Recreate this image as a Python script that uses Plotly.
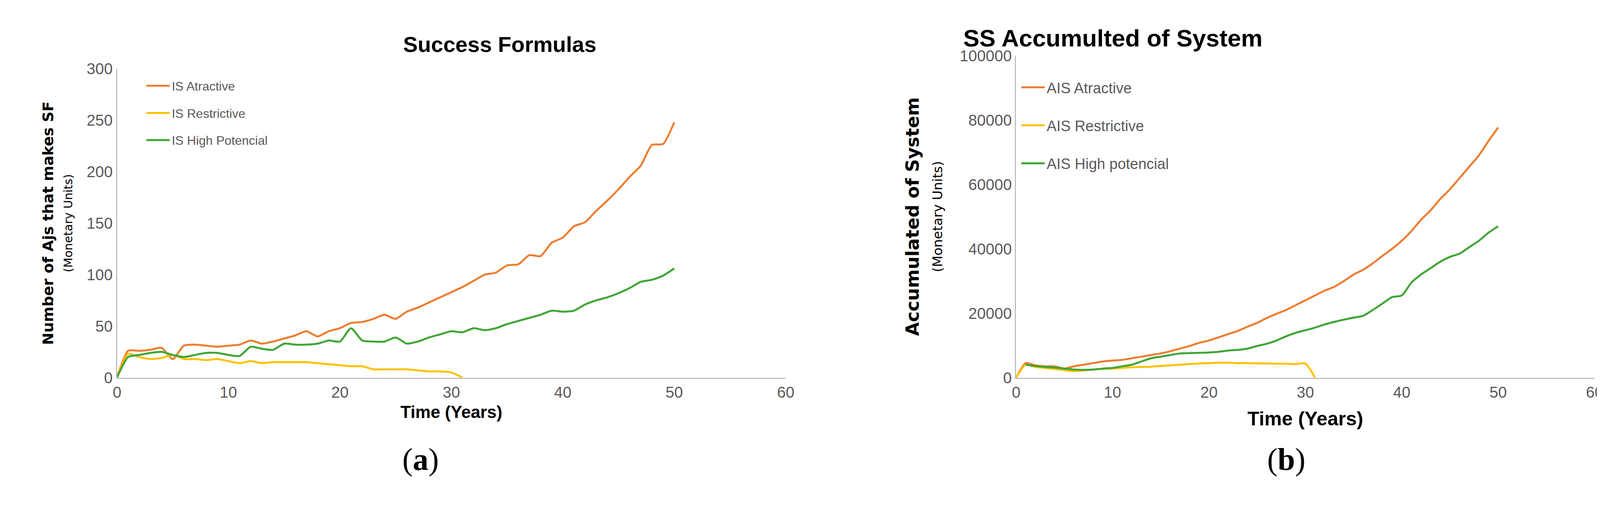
import plotly.graph_objects as go
from plotly.subplots import make_subplots

years = list(range(0, 51))

sf_attractive = [0, 26, 26, 27, 29, 18, 31, 32, 31, 30, 31, 32, 36, 33, 35, 38, 41, 45, 40, 45,
                 48, 53, 54, 57, 61, 57, 64, 68, 73, 78, 83, 88, 94, 100, 102, 109, 110, 119, 118, 131,
                 136, 147, 151, 162, 172, 183, 195, 206, 226, 227, 248]
sf_restrictive = [0, 23, 20, 18, 19, 22, 18, 18, 17, 18, 16, 14, 16, 14, 15, 15, 15, 15, 14, 13,
                  12, 11, 11, 8, 8, 8, 8, 7, 6, 6, 5, 0]
sf_high = [0, 20, 22, 24, 25, 22, 20, 22, 24, 24, 22, 21, 30, 28, 27, 33, 32, 32, 33, 36,
           35, 48, 36, 35, 35, 39, 33, 35, 39, 42, 45, 44, 48, 46, 48, 52, 55, 58, 61, 65,
           64, 65, 71, 75, 78, 82, 87, 93, 95, 99, 106]

ais_attractive = [0, 4500, 3800, 3500, 3500, 2800, 3500, 4000, 4500, 5000, 5300, 5500, 6000, 6500,
                  7000, 7500, 8200, 9000, 9800, 10800, 11500, 12500, 13500, 14500, 15800, 17000,
                  18500, 19800, 21000, 22500, 24000, 25500, 27000, 28200, 30000, 32000, 33500,
                  35500, 37800, 40000, 42500, 45500, 49000, 52000, 55500, 58500, 62000, 65500,
                  69000, 73500, 77700]
ais_restrictive = [0, 4000, 3300, 3000, 2700, 2300, 2000, 2200, 2500, 2700, 2800, 3000, 3200, 3300,
                   3400, 3600, 3800, 4000, 4200, 4400, 4500, 4600, 4600, 4500, 4500, 4400, 4400,
                   4300, 4300, 4200, 4400, 0]
ais_high_years = list(range(1, 51))
ais_high = [4000, 3600, 3300, 3100, 2800, 2500, 2400, 2500, 2800, 3000, 3500, 4000, 5000, 6000,
            6500, 7000, 7500, 7600, 7700, 7800, 8000, 8400, 8600, 9000, 9800, 10500, 11500, 12800,
            13900, 14700, 15500, 16500, 17300, 18000, 18600, 19200, 21000, 23000, 25000, 25500,
            29500, 32000, 34000, 36000, 37500, 38500, 40500, 42500, 45000, 47000]

ORANGE = '#ED7D31'
YELLOW = '#FFC000'
GREEN = '#3FA535'
NARROW = 'Liberation Sans Narrow, Liberation Sans, sans-serif'

fig = make_subplots(rows=1, cols=2)

def add(x, y, name, color, col, legend):
    fig.add_trace(go.Scatter(x=x, y=y, name=name, mode='lines', legendgroup=name,
                             line=dict(color=color, width=5, shape='spline', smoothing=0.6),
                             legend=legend), row=1, col=col)

add(years, sf_attractive, 'IS Atractive', ORANGE, 1, 'legend')
add(years[:len(sf_restrictive)], sf_restrictive, 'IS Restrictive', YELLOW, 1, 'legend')
add(years, sf_high, 'IS High Potencial', GREEN, 1, 'legend')
add(years, ais_attractive, 'AIS Atractive', ORANGE, 2, 'legend2')
add(years[:len(ais_restrictive)], ais_restrictive, 'AIS Restrictive', YELLOW, 2, 'legend2')
add(ais_high_years, ais_high, 'AIS High potencial', GREEN, 2, 'legend2')

axis_common = dict(showgrid=False, zeroline=False, showline=True, linecolor='#BFBFBF',
                   linewidth=3, ticks='', tickformat='d',
                   tickfont=dict(family=NARROW, size=40, color='#595959'))

fig.update_xaxes(**axis_common, range=[0, 60], dtick=10)
fig.update_yaxes(**axis_common)
fig.update_xaxes(domain=[0.068, 0.483], row=1, col=1,
                 title=dict(text='<b>Time (Years)</b>', font=dict(family=NARROW, size=44, color='black'), standoff=15))
fig.update_xaxes(domain=[0.626, 0.985], row=1, col=2,
                 title=dict(text='<b>Time (Years)</b>', font=dict(family=NARROW, size=50, color='black'), standoff=30))
fig.update_yaxes(domain=[0.25, 0.883], range=[0, 300], dtick=50, row=1, col=1,
                 title=dict(text="<b>Number of Ajs that makes SF</b><br><span style='font-size:30px'>(Monetary Units)</span>",
                            font=dict(family='DejaVu Sans', size=38, color='black'), standoff=25))
fig.update_yaxes(domain=[0.25, 0.91], range=[0, 100000], dtick=20000, row=1, col=2,
                 title=dict(text="<b>Accumulated of System</b><br><span style='font-size:34px'>(Monetary Units)</span>",
                            font=dict(family='DejaVu Sans', size=46, color='black'), standoff=30))

fig.update_layout(
    width=4158, height=1294,
    paper_bgcolor='white', plot_bgcolor='white',
    margin=dict(l=0, r=0, t=0, b=0),
    legend=dict(x=0.085, y=0.87, xanchor='left', yanchor='top',
                font=dict(family=NARROW, size=32, color='#595959'),
                bgcolor='rgba(0,0,0,0)', tracegroupgap=25, itemwidth=60),
    legend2=dict(x=0.628, y=0.87, xanchor='left', yanchor='top',
                 font=dict(family=NARROW, size=38, color='#595959'),
                 bgcolor='rgba(0,0,0,0)', tracegroupgap=45, itemwidth=60),
    annotations=[
        dict(text='<b>Success Formulas</b>', x=0.245, y=0.96, xref='paper', yref='paper',
             showarrow=False, font=dict(family=NARROW, size=56, color='black')),
        dict(text='<b>SS Accumulted of System</b>', x=0.7795, y=0.975, xref='paper', yref='paper',
             showarrow=False, font=dict(family=NARROW, size=62, color='black')),
        dict(text='(<b>a</b>)', x=0.2445, y=0.045, xref='paper', yref='paper',
             showarrow=False, font=dict(family='Liberation Serif, serif', size=80, color='black')),
        dict(text='(<b>b</b>)', x=0.806, y=0.045, xref='paper', yref='paper',
             showarrow=False, font=dict(family='Liberation Serif, serif', size=80, color='black')),
    ],
)

fig.write_html("out.html")
